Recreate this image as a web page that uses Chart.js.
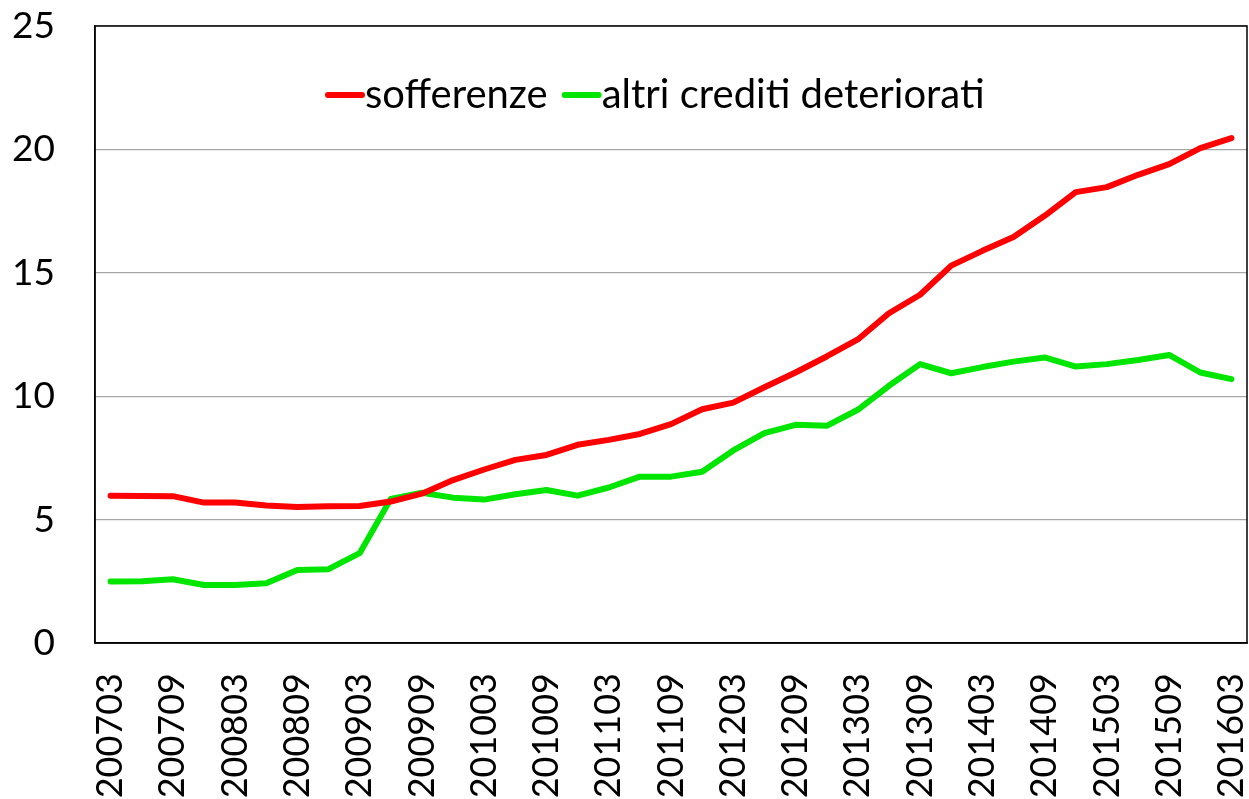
<!DOCTYPE html>
<html>
<head>
<meta charset="utf-8">
<script src="https://cdn.jsdelivr.net/npm/chart.js@4/dist/chart.umd.min.js"></script>
<style>
  html, body { margin: 0; padding: 0; background: #fff; }
  #wrap { width: 1249px; height: 799px; }
</style>
</head>
<body>
<div id="wrap"><canvas id="myChart" width="1249" height="799"></canvas></div>
<script>
// trimestri 2007Q1 - 2016Q1
var periodi = ['200703','200706','200709','200712','200803','200806','200809','200812',
	'200903','200906','200909','200912','201003','201006','201009','201012',
	'201103','201106','201109','201112','201203','201206','201209','201212',
	'201303','201306','201309','201312','201403','201406','201409','201412',
	'201503','201506','201509','201512','201603'];

var sofferenze = [5.97, 5.96, 5.95, 5.69, 5.69, 5.57, 5.51, 5.54, 5.55, 5.73,
	6.05, 6.6, 7.03, 7.42, 7.62, 8.03, 8.23, 8.47, 8.87, 9.47,
	9.74, 10.36, 10.96, 11.61, 12.3, 13.36, 14.11, 15.29, 15.89, 16.45,
	17.31, 18.27, 18.47, 18.97, 19.40, 20.05, 20.46];

var altriCrediti = [2.49, 2.5, 2.58, 2.35, 2.35, 2.42, 2.96, 2.99, 3.64, 5.84,
	6.09, 5.89, 5.81, 6.03, 6.20, 5.97, 6.30, 6.74, 6.74, 6.94,
	7.80, 8.50, 8.84, 8.80, 9.45, 10.42, 11.30, 10.93, 11.18, 11.40,
	11.57, 11.20, 11.30, 11.47, 11.67, 10.96, 10.69];

var yTicks = [0, 5, 10, 15, 20, 25];

var colorSet = {
	red: '#ff0000',
	green: '#00e600',
	grid: '#a6a6a6'
};

var fontName = 'Lato, "Open Sans", sans-serif';

// legenda dentro l'area del grafico + cornice
var boxPlugin = {
	id: 'boxPlugin',
	afterDraw: function(chart) {
		var ctx = chart.ctx;
		var a = chart.chartArea;
		ctx.save();
		ctx.strokeStyle = '#000';
		ctx.lineWidth = 1.5;
		ctx.strokeRect(a.left, a.top, a.right - a.left, a.bottom - a.top);

		ctx.font = '40px ' + fontName;
		ctx.textBaseline = 'middle';
		ctx.lineCap = 'round';
		ctx.lineWidth = 6;
		var y = a.top + 69;
		var x = a.left + 233;
		chart.data.datasets.forEach(function(ds) {
			ctx.strokeStyle = ds.borderColor;
			ctx.beginPath();
			ctx.moveTo(x, y);
			ctx.lineTo(x + 34, y);
			ctx.stroke();
			ctx.fillStyle = '#000';
			ctx.fillText(ds.label, x + 37, y);
			x += 37 + ctx.measureText(ds.label).width + 17;
		});
		ctx.restore();
	}
};

var ctx = document.getElementById('myChart').getContext('2d');
var myChart = new Chart(ctx, {
	type: 'line',
	data: {
		labels: periodi,
		datasets: [
			{
				label: 'sofferenze',
				data: sofferenze,
				borderColor: colorSet.red,
				backgroundColor: colorSet.red,
				borderWidth: 6,
				pointRadius: 0,
				tension: 0,
				borderCapStyle: 'round',
				borderJoinStyle: 'round'
			},
			{
				label: 'altri crediti deteriorati',
				data: altriCrediti,
				borderColor: colorSet.green,
				backgroundColor: colorSet.green,
				borderWidth: 6,
				pointRadius: 0,
				tension: 0,
				borderCapStyle: 'round',
				borderJoinStyle: 'round'
			}
		]
	},
	options: {
		responsive: false,
		animation: false,
		layout: { padding: { left: 0, right: 2, top: 26, bottom: 0 } },
		plugins: {
			legend: { display: false },
			tooltip: { enabled: false }
		},
		scales: {
			x: {
				offset: true,
				grid: { display: false, drawTicks: false, tickLength: 0 },
				border: { display: true, color: '#000', width: 1.5 },
				ticks: {
					color: '#000',
					font: { family: fontName, size: 36 },
					autoSkip: false,
					minRotation: 90,
					maxRotation: 90,
					padding: 30,
					callback: function(val, i) {
						return i % 2 === 0 ? periodi[i] : '';
					}
				},
				afterFit: function(axis) {
					axis.paddingLeft = 0;
					axis.paddingRight = 0;
					axis.height = 156;
				}
			},
			y: {
				min: yTicks[0],
				max: yTicks[yTicks.length - 1],
				afterBuildTicks: function(axis) {
					axis.ticks = yTicks.map(function(v) { return { value: v }; });
				},
				grid: { color: colorSet.grid, lineWidth: 1.2, drawTicks: false, tickLength: 0 },
				border: { display: true, color: '#000', width: 1.5 },
				ticks: {
					color: '#000',
					font: { family: fontName, size: 37 },
					padding: 40
				},
				afterFit: function(axis) {
					axis.paddingTop = 0;
					axis.paddingBottom = 0;
					axis.width = 95;
				}
			}
		}
	},
	plugins: [boxPlugin]
});
</script>
</body>
</html>
